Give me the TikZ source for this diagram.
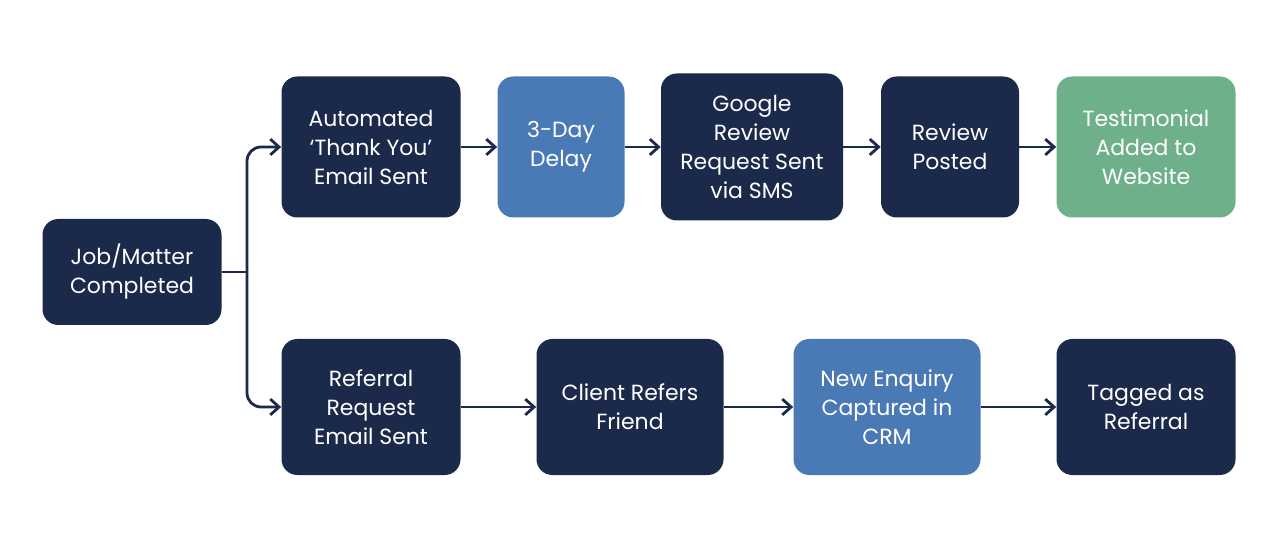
\documentclass[tikz,border=0pt]{standalone}
\usepackage{fontspec}
\setmainfont{Poppins}
\usetikzlibrary{arrows.meta,calc}
\definecolor{navy}{HTML}{1B2A4A}
\definecolor{mblue}{HTML}{4A7AB5}
\definecolor{mgreen}{HTML}{6DB08A}
\begin{document}
\begin{tikzpicture}[x=0.02cm,y=-0.02cm,
 box/.style={rounded corners=9pt,text=white,align=center,inner sep=0pt,
   font=\fontsize{12.5}{16.5}\selectfont},
 arr/.style={draw=navy,line width=1.6pt,-{Stealth[length=7pt,width=8pt,inset=0pt,open]},arrows={-{Straight Barb[length=5pt,width=9pt]}}}]
\useasboundingbox[fill=white] (0,0) rectangle (1280,543);
\newcommand{\bx}[7]{\node[box,fill=#6,minimum width=#4*0.02cm,minimum height=#5*0.02cm] (#1) at (#2,#3) {#7};}
\bx{job}{132}{272}{179}{106}{navy}{Job/Matter\\Completed}
\bx{auto}{371}{147}{179}{141}{navy}{Automated\\‘Thank You’\\Email Sent}
\bx{delay}{561}{147}{127}{141}{mblue}{3-Day\\Delay}
\bx{google}{752}{147}{182}{147}{navy}{Google\\Review\\Request Sent\\via SMS}
\bx{posted}{950}{147}{138}{141}{navy}{Review\\Posted}
\bx{testi}{1146}{147}{179}{141}{mgreen}{Testimonial\\Added to\\Website}
\bx{ref}{371}{407}{179}{136}{navy}{Referral\\Request\\Email Sent}
\bx{client}{630}{407}{187}{136}{navy}{Client Refers\\Friend}
\bx{enq}{887}{407}{187}{136}{mblue}{New Enquiry\\Captured in\\CRM}
\bx{tag}{1146}{407}{179}{136}{navy}{Tagged as\\Referral}
\coordinate (br) at (247,272);
\draw[navy,line width=1.6pt] (job.east) -- (br);
\draw[arr,rounded corners=8pt] (br) |- (auto.west);
\draw[arr,rounded corners=8pt] (br) |- (ref.west);
\draw[arr] (auto) -- (delay);
\draw[arr] (delay) -- (google);
\draw[arr] (google) -- (posted);
\draw[arr] (posted) -- (testi);
\draw[arr] (ref) -- (client);
\draw[arr] (client) -- (enq);
\draw[arr] (enq) -- (tag);
\end{tikzpicture}
\end{document}
